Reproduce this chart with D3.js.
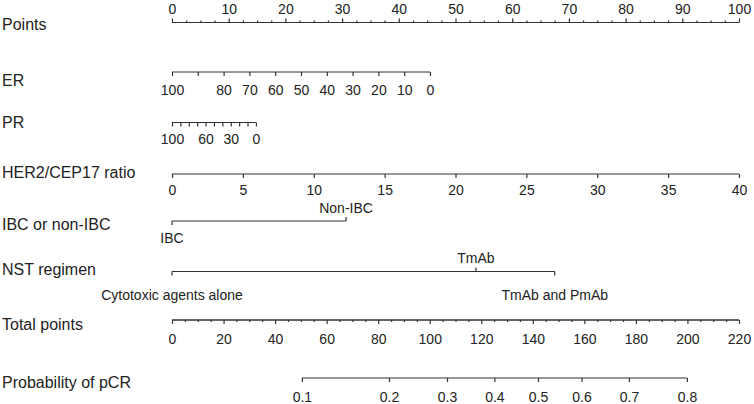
<!doctype html>
<html>
<head>
  <script src="https://cdnjs.cloudflare.com/ajax/libs/d3/7.8.5/d3.min.js"></script>
  <style>
    body { margin: 0; background: #fff; }
    svg { display: block; font-family: "Liberation Sans", Arial, sans-serif; }
    .axis path, .axis line { stroke: #333; stroke-width: 1.2; }
    .axis text { font-size: 14px; fill: #222; }
    .rowlab { font-size: 16px; fill: #222; }
  </style>
  <title>pCR nomogram</title>
</head>
<body>
<svg width="754" height="404"></svg>
<script>
// values
const pointsMajor = [0, 10, 20, 30, 40, 50, 60, 70, 80, 90, 100];
const pointsMinor = [2.5, 5, 7.5, 12.5, 15, 17.5, 22.5, 25, 27.5, 32.5, 35, 37.5, 42.5, 45, 47.5,
  52.5, 55, 57.5, 62.5, 65, 67.5, 72.5, 75, 77.5, 82.5, 85, 87.5, 92.5, 95, 97.5];

const erValues = [100, 90, 80, 70, 60, 50, 40, 30, 20, 10, 0];
const erLabels = ["100", "", "80", "70", "60", "50", "40", "30", "20", "10", "0"];
const erMaxPoints = 45.5;   // points for ER = 0

const prValues = [100, 90, 80, 70, 60, 50, 40, 30, 20, 10, 0];
const prLabels = ["100", "", "", "", "60", "", "", "30", "", "", "0"];
const prMaxPoints = 14.8;   // points for PR = 0

const her2Ticks = [0, 5, 10, 15, 20, 25, 30, 35, 40];
const her2MaxPoints = 100;  // points for ratio = 40

const ibcLevels = ["IBC", "Non-IBC"];
const ibcPoints = [0, 30.7];
const ibcSide = ["below", "above"];

const nstLevels = ["Cytotoxic agents alone", "TmAb", "TmAb and PmAb"];
const nstPoints = [0, 53.6, 67.5];
const nstSide = ["below", "above", "below"];

const totalMajor = [0, 20, 40, 60, 80, 100, 120, 140, 160, 180, 200, 220];
const totalMinor = [5, 10, 15, 25, 30, 35, 45, 50, 55, 65, 70, 75, 85, 90, 95, 105, 110, 115,
  125, 130, 135, 145, 150, 155, 165, 170, 175, 185, 190, 195, 205, 210, 215];

const probTicks = [0.1, 0.2, 0.3, 0.4, 0.5, 0.6, 0.7, 0.8];
const probTotals = [50.4, 84.2, 106.7, 125.1, 142.0, 158.9, 177.3, 199.8];

const rows = ["Points", "ER", "PR", "HER2/CEP17 ratio", "IBC or non-IBC", "NST regimen",
  "Total points", "Probability of pCR"];
const rowY = [22.5, 72, 122.5, 174, 221, 271.5, 320, 378];
const rowLabelY = [30, 86, 128, 178, 230, 275, 330, 388];

const svg = d3.select("svg");
const left = 172, right = 739;
const x = d3.scaleLinear().domain([0, 100]).range([left, right]);
const xTotal = d3.scaleLinear().domain([0, 220]).range([left, right]);

svg.selectAll(".rowlab")
  .data(rows)
  .enter().append("text")
  .attr("class", "rowlab")
  .attr("x", 2)
  .attr("y", (d, i) => rowLabelY[i])
  .text(d => d);

function bottomAxis(scale, values, labels, y, size, pad) {
  const ax = d3.axisBottom(scale).tickValues(values).tickSize(size).tickSizeOuter(0).tickPadding(pad || 8);
  if (labels) ax.tickFormat((d, i) => labels[i]);
  const g = svg.append("g").attr("class", "axis").attr("transform", `translate(0,${y})`).call(ax);
  g.select(".domain").attr("d", `M${scale.range()[0]},0H${scale.range()[1]}`);
  return g;
}

// Points
const pts = svg.append("g").attr("class", "axis").attr("transform", `translate(0,${rowY[0]})`);
pts.call(d3.axisTop(x).tickValues(pointsMinor).tickSize(2).tickSizeOuter(0).tickFormat(""));
pts.call(g => g.select(".domain").remove());
const ptsMaj = svg.append("g").attr("class", "axis").attr("transform", `translate(0,${rowY[0]})`)
  .call(d3.axisTop(x).tickValues(pointsMajor).tickSize(4).tickSizeOuter(0).tickPadding(5));
ptsMaj.select(".domain").attr("d", `M${left},0H${right}`);

// ER
const erScale = d3.scaleLinear().domain([100, 0]).range([x(0), x(erMaxPoints)]);
bottomAxis(erScale, erValues, erLabels, rowY[1], 4, 9);

// PR
const prScale = d3.scaleLinear().domain([100, 0]).range([x(0), x(prMaxPoints)]);
bottomAxis(prScale, prValues, prLabels, rowY[2], 4, 8);

// HER2/CEP17
const her2Scale = d3.scaleLinear().domain([0, 40]).range([x(0), x(her2MaxPoints)]);
bottomAxis(her2Scale, her2Ticks, null, rowY[3], 4, 7);

// categorical rows
function catRow(levels, points, side, y, gapAbove, gapBelow) {
  const g = svg.append("g").attr("class", "axis").attr("transform", `translate(0,${y})`);
  g.append("path").attr("d", `M${x(d3.min(points))},0H${x(d3.max(points))}`).attr("fill", "none");
  const t = g.selectAll(".tick").data(levels).enter().append("g")
    .attr("class", "tick")
    .attr("transform", (d, i) => `translate(${x(points[i])},0)`);
  t.append("line").attr("y2", (d, i) => side[i] === "above" ? -4 : 4);
  t.append("text")
    .attr("text-anchor", "middle")
    .attr("y", (d, i) => side[i] === "above" ? -gapAbove : gapBelow)
    .attr("dy", (d, i) => side[i] === "above" ? "0" : "0.71em")
    .text(d => d);
}
catRow(ibcLevels, ibcPoints, ibcSide, rowY[4], 8, 12);
catRow(nstLevels, nstPoints, nstSide, rowY[5], 9, 19);

// Total points
bottomAxis(xTotal, totalMinor, totalMinor.map(() => ""), rowY[6], 2, 8);
bottomAxis(xTotal, totalMajor, null, rowY[6], 4, 10);

// Probability of pCR
const probPos = probTotals.map(t => xTotal(t));
const probScale = d3.scaleOrdinal().domain(probTicks).range(probPos);
probScale.range = () => [probPos[0], probPos[probPos.length - 1]];
bottomAxis(probScale, probTicks, probTicks.map(String), rowY[7], 4, 10);
</script>
</body>
</html>
